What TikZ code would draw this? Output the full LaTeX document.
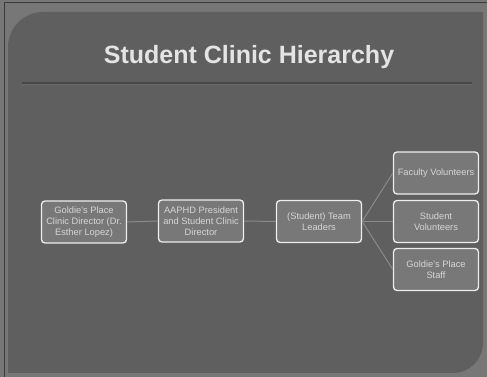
\documentclass[tikz,border=0pt]{standalone}
\usepackage{fontspec}
\setmainfont{Liberation Sans}
\definecolor{outerbg}{HTML}{777777}
\definecolor{panelbg}{HTML}{5F5F5F}
\definecolor{boxfill}{HTML}{787878}
\definecolor{boxline}{HTML}{EEEEEE}
\definecolor{boxtext}{HTML}{D6D6D6}
\definecolor{titletext}{HTML}{E4E4E4}
\definecolor{conn}{HTML}{8A8A8A}
\definecolor{edgeline}{HTML}{3A3A3A}
\definecolor{sepline}{HTML}{474747}
\definecolor{sephigh}{HTML}{6C6C6C}
\begin{document}
\begin{tikzpicture}[x=1pt,y=1pt,
  orgbox/.style={draw=boxline, line width=1.3pt, fill=boxfill, rounded corners=3.5pt,
    minimum width=85pt, minimum height=42pt, inner sep=1pt, align=center,
    text=boxtext, font=\fontsize{9.3}{10.8}\selectfont},
  link/.style={draw=conn, line width=1pt}]
\useasboundingbox (0,0) rectangle (487,377);
% backgrounds
\fill[outerbg] (0,0) rectangle (487,377);
\fill[panelbg] (8,4) -- (8,330) arc[start angle=180,end angle=90,radius=35]
  -- (483,365) -- (483,34) arc[start angle=0,end angle=-90,radius=30] -- cycle;
\draw[edgeline, line width=1.2pt] (4.5,0) -- (4.5,374.5) -- (487,374.5);
% title
\node[anchor=base, text=titletext, font=\fontsize{25}{30}\selectfont\bfseries] (title) at (249,313) {Student Clinic Hierarchy};
\draw[line width=0.8pt, draw=sephigh] (22,292.6) -- (472,292.6);
\draw[line width=1.2pt, draw=sepline] (22,294) -- (472,294);
% boxes
\node[orgbox] (b1) at (84,155) {Goldie's Place\\Clinic Director (Dr.\\Esther Lopez)};
\node[orgbox] (b2) at (201,156) {AAPHD President\\and Student Clinic\\Director};
\node[orgbox] (b3) at (319,155.5) {(Student) Team\\Leaders};
\node[orgbox] (b4) at (436,204) {Faculty Volunteers};
\node[orgbox] (b5) at (436,155.5) {Student\\Volunteers};
\node[orgbox] (b6) at (436,107.5) {Goldie's Place\\Staff};
% connectors
\draw[link] (b1.east) -- (b2.west);
\draw[link] (b2.east) -- (b3.west);
\draw[link] (b3.east) -- (b4.west);
\draw[link] (b3.east) -- (b5.west);
\draw[link] (b3.east) -- (b6.west);
\end{tikzpicture}
\end{document}
